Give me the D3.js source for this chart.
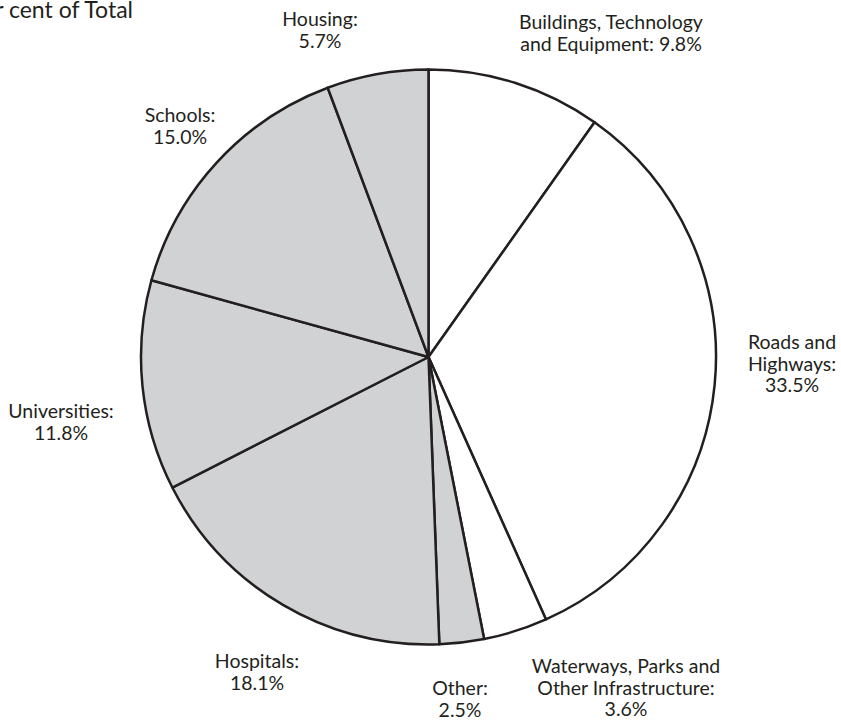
<!DOCTYPE html>
<html>
<head>
<meta charset="utf-8">
<script src="https://cdn.jsdelivr.net/npm/d3@7"></script>
<style>
  body { margin: 0; background: #fff; }
  text { font-family: Lato, "Open Sans", sans-serif; fill: #231f20; }
</style>
</head>
<body>
<div id="chart"></div>
<script>
// shares of total, clockwise from 12 o'clock
const categories = ["Buildings, Technology and Equipment", "Roads and Highways",
  "Waterways, Parks and Other Infrastructure", "Other", "Hospitals",
  "Universities", "Schools", "Housing"];
const values = [9.8, 33.5, 3.6, 2.5, 18.1, 11.8, 15.0, 5.7];
const shaded = [false, false, false, true, true, true, true, true];
const labelLines = [
  ["Buildings, Technology", "and Equipment: 9.8%"],
  ["Roads and", "Highways:", "33.5%"],
  ["Waterways, Parks and", "Other Infrastructure:", "3.6%"],
  ["Other:", "2.5%"],
  ["Hospitals:", "18.1%"],
  ["Universities:", "11.8%"],
  ["Schools:", "15.0%"],
  ["Housing:", "5.7%"]
];

// where each label sits (centre x, first baseline)
const labelPos = [[611, 29], [792, 349], [626, 673], [460, 695], [257, 668],
  [61, 418], [180, 122], [320, 26]];

const width = 841, height = 722;
const cx = 428.5, cy = 357, r = 287.5;

const svg = d3.select("#chart").append("svg")
  .attr("width", width)
  .attr("height", height);

// title runs off the left edge in the original
svg.append("text")
  .attr("x", 133)
  .attr("y", 18)
  .attr("text-anchor", "end")
  .style("font-size", "23px")
  .text("Per cent of Total");

const pie = d3.pie().sort(null).value(d => d)(values);
const arc = d3.arc().innerRadius(0).outerRadius(r);

const g = svg.append("g").attr("transform", "translate(" + cx + "," + cy + ")");

g.selectAll("path")
  .data(pie)
  .join("path")
  .attr("d", arc)
  .attr("fill", (d, i) => shaded[i] ? "#d1d2d4" : "#fff")
  .attr("stroke", "#231f20")
  .attr("stroke-width", 2.5)
  .attr("stroke-linejoin", "round");

const labels = svg.selectAll("text.lbl")
  .data(labelLines)
  .join("text")
  .attr("class", "lbl")
  .attr("text-anchor", "middle")
  .style("font-size", "19.5px")
  .attr("transform", (d, i) => "translate(" + labelPos[i][0] + "," + labelPos[i][1] + ")");

labels.selectAll("tspan")
  .data(d => d)
  .join("tspan")
  .attr("x", 0)
  .attr("y", (d, j) => j * 21.5)
  .text(d => d);
</script>
</body>
</html>
